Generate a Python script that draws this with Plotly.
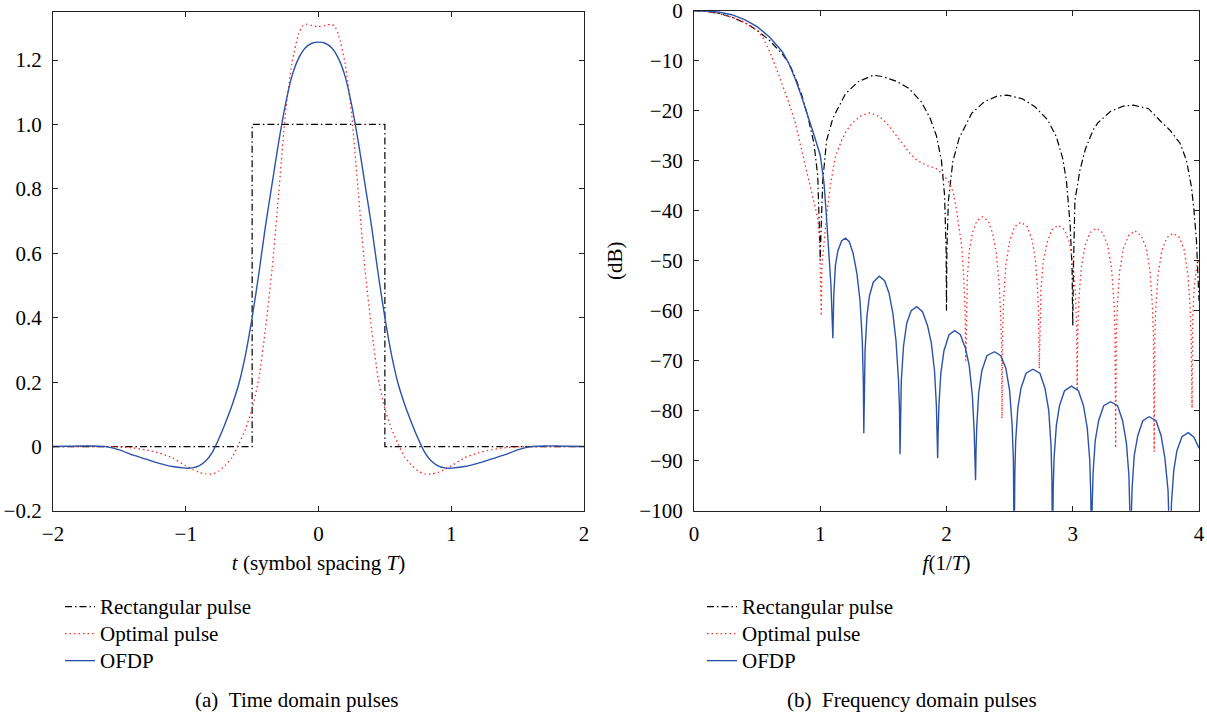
import plotly.graph_objects as go

W, H = 1207, 716
FONT = "Liberation Serif"

# ---------------- Time-domain data ----------------
rect_t = [-2.0, -0.5, -0.5, 0.5, 0.5, 2.0]
rect_v = [0.0, 0.0, 1.0, 1.0, 0.0, 0.0]

opt_t = [-2.0, -1.8, -1.6, -1.5, -1.4, -1.3, -1.2, -1.1, -1.0, -0.95, -0.9, -0.85, -0.8,
         -0.75, -0.7, -0.65, -0.6, -0.55, -0.5, -0.45, -0.4, -0.35, -0.3, -0.25, -0.2,
         -0.15, -0.12, -0.09, -0.05, 0.0,
         0.05, 0.09, 0.12, 0.15, 0.2, 0.25, 0.3, 0.35, 0.4, 0.45, 0.5, 0.55, 0.6, 0.65,
         0.7, 0.75, 0.8, 0.85, 0.9, 0.95, 1.0, 1.1, 1.2, 1.3, 1.4, 1.5, 1.6, 1.8, 2.0]
opt_v = [0.0, 0.0, 0.0, -0.001, -0.004, -0.010, -0.020, -0.035, -0.060, -0.071, -0.080, -0.085, -0.085,
         -0.076, -0.057, -0.033, 0.008, 0.055, 0.118, 0.210, 0.365, 0.550, 0.785, 1.030, 1.190,
         1.280, 1.306, 1.311, 1.307, 1.304,
         1.307, 1.311, 1.306, 1.280, 1.190, 1.030, 0.785, 0.550, 0.365, 0.210, 0.118, 0.055, 0.008, -0.033,
         -0.057, -0.076, -0.085, -0.085, -0.080, -0.071, -0.060, -0.035, -0.020, -0.010, -0.004, -0.001, 0.0, 0.0, 0.0]

ofdp_t = [-2.0, -1.9, -1.8, -1.7, -1.6, -1.5, -1.4, -1.3, -1.2, -1.1, -1.0, -0.95, -0.9, -0.85,
          -0.8, -0.75, -0.7, -0.65, -0.6, -0.55, -0.5, -0.45, -0.4, -0.35, -0.3, -0.25, -0.2,
          -0.15, -0.1, -0.05, 0.0,
          0.05, 0.1, 0.15, 0.2, 0.25, 0.3, 0.35, 0.4, 0.45, 0.5, 0.55, 0.6, 0.65, 0.7, 0.75,
          0.8, 0.85, 0.9, 0.95, 1.0, 1.1, 1.2, 1.3, 1.4, 1.5, 1.6, 1.7, 1.8, 1.9, 2.0]
ofdp_v = [0.0, 0.001, 0.002, 0.002, 0.0, -0.010, -0.026, -0.039, -0.052, -0.062, -0.067, -0.066, -0.060, -0.045,
          -0.018, 0.025, 0.075, 0.130, 0.195, 0.285, 0.400, 0.535, 0.683, 0.815, 0.945, 1.060, 1.150,
          1.205, 1.237, 1.252, 1.2555,
          1.252, 1.237, 1.205, 1.150, 1.060, 0.945, 0.815, 0.683, 0.535, 0.400, 0.285, 0.195, 0.130, 0.075, 0.025,
          -0.018, -0.045, -0.060, -0.066, -0.067, -0.062, -0.052, -0.039, -0.026, -0.010, 0.0, 0.002, 0.002, 0.001, 0.0]

time_xticks = [-2, -1, 0, 1, 2]
time_xlabels = ["\u22122", "\u22121", "0", "1", "2"]
time_yticks = [-0.2, 0, 0.2, 0.4, 0.6, 0.8, 1.0, 1.2]
time_ylabels = ["\u22120.2", "0", "0.2", "0.4", "0.6", "0.8", "1.0", "1.2"]

# ---------------- Frequency-domain data (dB) ----------------
rect_f = [0, 0.1, 0.2, 0.3, 0.4, 0.5, 0.6, 0.7, 0.75, 0.8, 0.85, 0.9, 0.95, 0.98, 0.995, 1.0, 1.005,
          1.02, 1.05, 1.1, 1.2, 1.3, 1.42, 1.5, 1.6, 1.7, 1.8, 1.87, 1.92, 1.96, 1.985, 1.997, 2.0,
          2.003, 2.015, 2.05, 2.1, 2.15, 2.2, 2.3, 2.4, 2.48, 2.6, 2.7, 2.8, 2.87, 2.92, 2.95, 2.98,
          2.995, 3.0, 3.005, 3.017, 3.057, 3.1, 3.16, 3.2, 3.3, 3.4, 3.48, 3.6, 3.7, 3.77, 3.85, 3.9,
          3.94, 3.96, 3.98, 3.99, 4.0]
rect_db = [0, -0.15, -0.55, -1.3, -2.4, -3.9, -6.0, -8.7, -10.4, -13.2, -16.6, -21.0, -26.5, -33.0, -45.0, -50.0, -45.0,
           -34.0, -26.0, -21.5, -16.6, -14.2, -12.9, -13.2, -14.1, -15.5, -18.2, -21.5, -25.0, -30.0, -37.0, -48.0, -60.0,
           -48.0, -38.0, -30.2, -25.5, -23.0, -20.5, -18.2, -17.1, -16.9, -17.6, -19.2, -21.8, -25.2, -29.5, -34.0, -43.0,
           -52.0, -63.0, -52.0, -38.0, -31.9, -27.7, -23.9, -22.4, -20.1, -19.1, -18.9, -19.6, -22.2, -23.9, -26.5, -29.9,
           -35.2, -39.9, -46.0, -51.0, -58.0]

opt_f = [0, 0.1, 0.2, 0.3, 0.4, 0.5, 0.55, 0.6, 0.65, 0.7, 0.75, 0.8, 0.85, 0.9, 0.95, 0.98, 0.995, 1.003, 1.008,
         1.013, 1.03, 1.053, 1.08, 1.12, 1.17, 1.21, 1.26, 1.33, 1.395, 1.47, 1.53, 1.58, 1.645, 1.71, 1.765,
         1.84, 1.92, 1.975, 2.025, 2.055, 2.08, 2.1, 2.12, 2.135, 2.147, 2.153,
         2.158, 2.165, 2.18, 2.205, 2.24, 2.285, 2.33, 2.365, 2.395, 2.418, 2.43, 2.437, 2.44,
         2.444, 2.452, 2.47, 2.5, 2.54, 2.59, 2.64, 2.68, 2.705, 2.722, 2.73, 2.735,
         2.74, 2.748, 2.765, 2.795, 2.835, 2.885, 2.935, 2.975, 3.005, 3.022, 3.03, 3.035,
         3.04, 3.048, 3.067, 3.097, 3.137, 3.187, 3.237, 3.277, 3.307, 3.326, 3.334, 3.34,
         3.345, 3.353, 3.372, 3.402, 3.442, 3.492, 3.542, 3.582, 3.612, 3.631, 3.639, 3.645,
         3.65, 3.658, 3.675, 3.705, 3.745, 3.795, 3.845, 3.885, 3.913, 3.93, 3.938, 3.945,
         3.95, 3.96, 3.98, 4.0]
opt_db = [0, -0.15, -0.6, -1.3, -2.3, -3.9, -5.6, -8.2, -11.4, -14.8, -18.3, -22.2, -27.5, -32.8, -38.0, -41.5, -46.0, -55.0, -61.0,
          -51.0, -46.0, -40.5, -35.0, -29.2, -25.9, -23.9, -22.3, -20.9, -20.4, -21.2, -22.6, -24.2, -26.5, -28.5, -29.9,
          -30.9, -31.6, -32.8, -34.5, -36.5, -40.0, -43.2, -47.0, -52.5, -60.0, -70.0,
          -59.0, -53.5, -48.0, -44.5, -42.0, -41.2, -42.0, -44.5, -48.5, -55.0, -61.5, -68.0, -81.5,
          -66.0, -58.0, -51.0, -46.0, -43.2, -42.3, -43.2, -46.0, -50.0, -56.0, -61.5, -71.5,
          -62.0, -56.0, -50.5, -46.5, -43.8, -42.9, -43.8, -46.5, -51.0, -57.0, -63.0, -76.0,
          -64.0, -58.0, -51.5, -47.0, -44.4, -43.5, -44.4, -47.0, -51.5, -58.0, -64.0, -87.5,
          -65.0, -59.0, -52.0, -47.5, -45.0, -44.0, -45.0, -47.5, -52.0, -59.0, -65.0, -88.2,
          -65.5, -59.5, -53.0, -48.0, -45.4, -44.5, -45.4, -48.0, -53.0, -59.5, -65.5, -79.5,
          -62.0, -56.0, -51.5, -49.5]

ofdp_f = [0, 0.1, 0.2, 0.3, 0.4, 0.5, 0.6, 0.7, 0.75, 0.8, 0.85, 0.9, 0.95, 1.0, 1.03, 1.05, 1.07, 1.085, 1.1,
          1.107, 1.12, 1.14, 1.17, 1.2, 1.23, 1.26, 1.29, 1.315, 1.333, 1.341, 1.345,
          1.349, 1.355, 1.37, 1.39, 1.42, 1.467, 1.51, 1.545, 1.575, 1.6, 1.62, 1.628, 1.632,
          1.636, 1.642, 1.66, 1.685, 1.72, 1.764, 1.81, 1.85, 1.88, 1.905, 1.92, 1.926, 1.93,
          1.934, 1.94, 1.955, 1.98, 2.02, 2.065, 2.11, 2.15, 2.18, 2.205, 2.219, 2.226, 2.23,
          2.234, 2.24, 2.255, 2.28, 2.32, 2.38, 2.43, 2.47, 2.5, 2.52, 2.53, 2.536,
          2.541, 2.548, 2.565, 2.59, 2.63, 2.685, 2.74, 2.78, 2.81, 2.828, 2.835, 2.84,
          2.845, 2.852, 2.87, 2.895, 2.935, 2.99, 3.045, 3.085, 3.115, 3.135, 3.143, 3.149,
          3.154, 3.161, 3.178, 3.205, 3.245, 3.3, 3.355, 3.395, 3.425, 3.445, 3.452, 3.458,
          3.463, 3.47, 3.487, 3.515, 3.555, 3.605, 3.66, 3.7, 3.73, 3.755, 3.763, 3.77,
          3.775, 3.782, 3.8, 3.825, 3.865, 3.915, 3.96, 4.0]
ofdp_db = [0, -0.05, -0.3, -0.8, -1.8, -3.2, -5.3, -8.2, -10.5, -13.5, -17.0, -20.8, -24.8, -28.9, -34.5, -41.5, -48.5, -55.0, -65.5,
           -57.0, -51.0, -48.0, -46.0, -45.5, -46.2, -48.5, -52.5, -58.0, -66.0, -74.0, -84.5,
           -75.0, -68.0, -61.0, -57.0, -54.3, -53.1, -54.0, -56.5, -60.5, -66.0, -74.0, -80.0, -88.7,
           -80.0, -74.0, -67.0, -62.5, -60.0, -59.2, -60.2, -63.0, -66.5, -72.0, -79.0, -84.0, -89.5,
           -84.0, -79.0, -72.5, -68.0, -64.8, -64.0, -64.8, -67.5, -71.0, -77.0, -84.0, -89.0, -93.9,
           -88.0, -83.0, -76.5, -72.0, -69.0, -68.2, -69.0, -71.5, -76.0, -83.0, -90.0, -110.0,
           -93.0, -86.0, -79.5, -75.5, -72.5, -71.7, -72.5, -75.5, -80.0, -87.0, -94.0, -110.0,
           -96.0, -89.5, -83.0, -79.0, -76.0, -75.1, -76.0, -79.0, -83.5, -90.0, -97.0, -110.0,
           -99.0, -92.5, -86.0, -82.0, -79.0, -78.2, -79.0, -82.0, -86.5, -93.0, -100.0, -110.0,
           -102.0, -95.5, -89.0, -85.0, -82.0, -81.2, -82.0, -85.0, -89.5, -96.0, -103.0, -110.0,
           -105.0, -98.5, -92.0, -88.0, -85.2, -84.4, -85.3, -87.5]

freq_xticks = [0, 1, 2, 3, 4]
freq_xlabels = ["0", "1", "2", "3", "4"]
freq_yticks = [-100, -90, -80, -70, -60, -50, -40, -30, -20, -10, 0]
freq_ylabels = ["\u2212100", "\u221290", "\u221280", "\u221270", "\u221260", "\u221250",
                "\u221240", "\u221230", "\u221220", "\u221210", "0"]

names = ["Rectangular pulse", "Optimal pulse", "OFDP"]
BLACK = "#000000"
RED = "#ff2a2a"
BLUE = "#2c52a8"
DASHDOT = "7px,3px,1.5px,3px"
DOTS = "1.5px,3px"
FS = 21
LEG_FS = 18.5


def legend_label(s):
    return "<span style='font-size:%dpx'>%s</span>" % (FS, s)


fig = go.Figure()

# left panel
fig.add_trace(go.Scatter(x=rect_t, y=rect_v, mode="lines", name=legend_label(names[0]), legend="legend",
                         line=dict(color=BLACK, width=1.2, dash=DASHDOT), xaxis="x", yaxis="y"))
fig.add_trace(go.Scatter(x=opt_t, y=opt_v, mode="lines", name=legend_label(names[1]), legend="legend",
                         line=dict(color=RED, width=1.3, dash=DOTS, shape="spline", smoothing=0.6),
                         xaxis="x", yaxis="y"))
fig.add_trace(go.Scatter(x=ofdp_t, y=ofdp_v, mode="lines", name=legend_label(names[2]), legend="legend",
                         line=dict(color=BLUE, width=1.4, shape="spline", smoothing=0.6),
                         xaxis="x", yaxis="y"))
# right panel
fig.add_trace(go.Scatter(x=rect_f, y=rect_db, mode="lines", name=legend_label(names[0]), legend="legend2",
                         line=dict(color=BLACK, width=1.2, dash=DASHDOT), xaxis="x2", yaxis="y2"))
fig.add_trace(go.Scatter(x=opt_f, y=opt_db, mode="lines", name=legend_label(names[1]), legend="legend2",
                         line=dict(color=RED, width=1.3, dash=DOTS), xaxis="x2", yaxis="y2"))
fig.add_trace(go.Scatter(x=ofdp_f, y=ofdp_db, mode="lines", name=legend_label(names[2]), legend="legend2",
                         line=dict(color=BLUE, width=1.4), xaxis="x2", yaxis="y2"))


def px_x(p):
    return p / W


def px_y(p):
    return 1 - p / H


axis_common = dict(showline=True, linecolor="#222222", linewidth=1.2, mirror="ticks",
                   ticks="inside", ticklen=5, tickwidth=1.2, tickcolor="#222222",
                   showgrid=False, zeroline=False, automargin=False,
                   ticklabeloverflow="allow",
                   tickfont=dict(family=FONT, size=FS, color="black"))

fig.update_layout(
    width=W, height=H,
    margin=dict(l=0, r=0, t=0, b=0, autoexpand=False),
    paper_bgcolor="white", plot_bgcolor="white",
    font=dict(family=FONT, size=FS, color="black"),
    xaxis=dict(domain=[px_x(53), px_x(584)], range=[-2, 2], anchor="y",
               tickvals=time_xticks, ticktext=time_xlabels, ticklabelstandoff=4,
               title=dict(text="<i>t</i> (symbol spacing <i>T</i>)", standoff=10,
                          font=dict(family=FONT, size=FS)),
               **axis_common),
    yaxis=dict(domain=[px_y(511), px_y(11.7)], range=[-0.2, 1.35], anchor="x",
               tickvals=time_yticks, ticktext=time_ylabels, ticklabelstandoff=6,
               **axis_common),
    xaxis2=dict(domain=[px_x(694), px_x(1199)], range=[0, 4], anchor="y2",
                tickvals=freq_xticks, ticktext=freq_xlabels, ticklabelstandoff=4,
                title=dict(text="<i>f</i>(1/<i>T</i>)", standoff=10,
                           font=dict(family=FONT, size=FS)),
                **axis_common),
    yaxis2=dict(domain=[px_y(510.7), px_y(10.7)], range=[-100, 0], anchor="x2",
                tickvals=freq_yticks, ticktext=freq_ylabels, ticklabelstandoff=6,
                title=dict(text="(dB)", standoff=10, font=dict(family=FONT, size=FS)),
                **axis_common),
    legend=dict(x=px_x(60), y=px_y(588), xanchor="left", yanchor="top",
                font=dict(family=FONT, size=LEG_FS), bgcolor="rgba(0,0,0,0)", borderwidth=0,
                tracegroupgap=0),
    legend2=dict(x=px_x(702), y=px_y(588), xanchor="left", yanchor="top",
                 font=dict(family=FONT, size=LEG_FS), bgcolor="rgba(0,0,0,0)", borderwidth=0,
                 tracegroupgap=0),
    annotations=[
        dict(text="(a)\u2002Time domain pulses", x=px_x(296), y=px_y(700), xref="paper", yref="paper",
             showarrow=False, font=dict(family=FONT, size=FS), xanchor="center", yanchor="middle"),
        dict(text="(b)\u2002Frequency domain pulses", x=px_x(912), y=px_y(700), xref="paper", yref="paper",
             showarrow=False, font=dict(family=FONT, size=FS), xanchor="center", yanchor="middle"),
    ],
)

fig.write_html("out.html")
